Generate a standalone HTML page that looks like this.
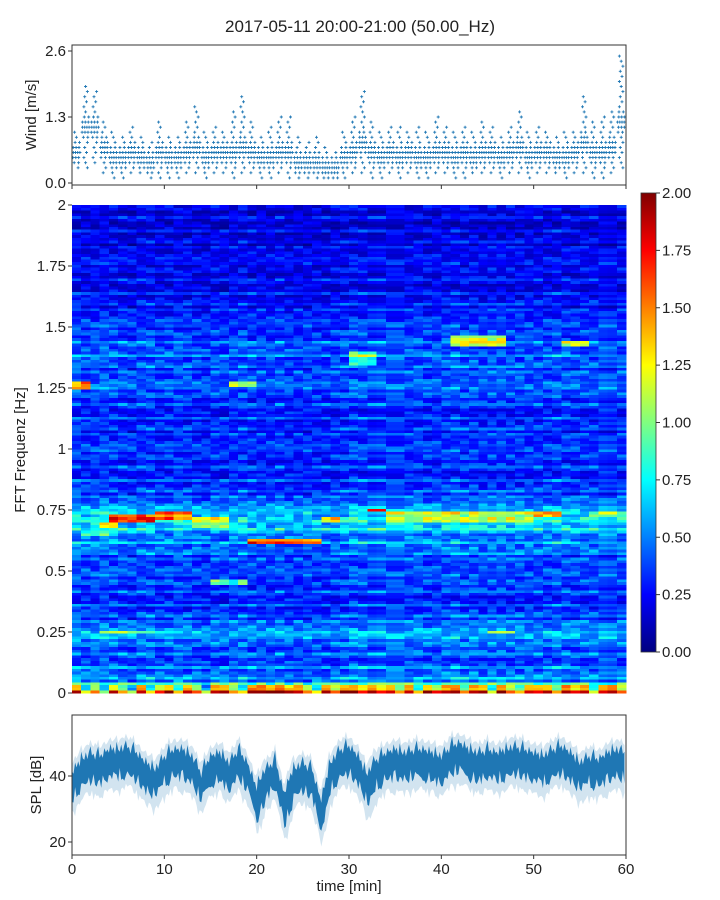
<!DOCTYPE html>
<html><head><meta charset="utf-8">
<style>
html,body{margin:0;padding:0;background:#fff;}
#wrap{position:relative;width:720px;height:900px;overflow:hidden;font-family:"Liberation Sans",sans-serif;}
svg text{font-family:"Liberation Sans",sans-serif;fill:#222;}
</style></head>
<body>
<div id="wrap">
<svg id="fig" width="720" height="900" xmlns="http://www.w3.org/2000/svg">
<text x="360" y="32" text-anchor="middle" font-size="17">2017-05-11 20:00-21:00 (50.00_Hz)</text>
<g id="wind"></g>
<g id="spec"></g>
<g id="cbar"></g>
<g id="spl"></g>
</svg>
</div>
<script>
// ---------- DATA ----------
const minutes = [0,1,2,3,4,5,6,7,8,9,10,11,12,13,14,15,16,17,18,19,20,21,22,23,24,25,26,27,28,29,30,31,32,33,34,35,36,37,38,39,40,41,42,43,44,45,46,47,48,49,50,51,52,53,54,55,56,57,58,59];
const windMax = [1.0,1.9,1.8,1.2,1.0,0.9,1.1,0.9,0.8,1.2,0.9,0.9,1.2,1.5,1.0,1.1,1.0,1.4,1.7,1.2,0.9,1.1,1.3,1.3,0.9,0.8,0.9,0.7,0.6,1.0,1.3,1.8,1.2,1.0,1.1,1.1,1.0,1.1,1.0,1.3,1.1,1.0,1.1,1.0,1.2,1.1,0.9,1.1,1.4,1.0,1.1,1.0,0.9,1.0,1.0,1.7,1.2,1.3,1.4,2.5];
const windMin = [0.3,0.3,0.4,0.2,0.1,0.1,0.2,0.2,0.1,0.1,0.1,0.1,0.2,0.2,0.1,0.2,0.2,0.1,0.2,0.2,0.1,0.1,0.2,0.1,0.1,0.1,0.1,0.1,0.1,0.1,0.2,0.2,0.1,0.1,0.2,0.1,0.2,0.1,0.1,0.2,0.2,0.1,0.1,0.2,0.2,0.2,0.1,0.2,0.2,0.1,0.2,0.2,0.2,0.1,0.2,0.2,0.1,0.1,0.2,0.3];
const windMean = [0.6,1.1,1.1,0.7,0.5,0.5,0.6,0.5,0.4,0.6,0.5,0.5,0.6,0.7,0.5,0.6,0.6,0.6,0.7,0.6,0.5,0.5,0.6,0.6,0.4,0.4,0.4,0.3,0.3,0.5,0.6,0.8,0.6,0.5,0.6,0.5,0.6,0.5,0.5,0.6,0.6,0.5,0.6,0.5,0.6,0.6,0.5,0.6,0.7,0.5,0.6,0.6,0.5,0.5,0.6,0.8,0.6,0.6,0.7,1.2];
const windTicks = [0.0,1.3,2.6];

const splMean = [37,41,43,42,44,44,45,43,40,38,42,44,44,42,37,42,43,40,44,40,32,38,41,30,38,40,38,28,40,44,45,42,36,41,43,44,43,44,44,43,42,45,46,44,43,44,43,44,45,44,43,42,44,45,43,40,42,41,43,44,43];
const splSpread = [5,5,5,5,5,5,5,5,5,5,5,5,5,5,5,5,5,5,5,5,6,5,5,6,5,5,5,6,5,5,5,5,6,5,5,5,5,5,5,5,5,5,5,5,5,5,5,5,5,5,5,5,5,5,5,5,5,5,5,5,5];
const splTicks = [20,40];
const xTicks = [0,10,20,30,40,50,60];

const freqProfile = [1.6,0.5,0.42,0.37,0.42,0.52,0.37,0.32,0.32,0.35,0.32,0.35,0.47,0.52,0.7,0.52,0.37,0.32,0.3,0.3,0.3,0.29,0.3,0.3,0.32,0.38,0.35,0.37,0.44,0.37,0.3,0.27,0.25,0.22,0.22,0.2,0.2,0.18,0.18,0.18,0.18];
const lowRow = [1.9,1.2,1.6,1.0,1.8,1.4,1.0,1.9,1.2,1.7,1.9,1.3,1.8,1.6,1.0,1.9,1.9,1.5,1.2,1.9,2.0,1.9,2.0,1.8,1.9,1.5,1.2,1.9,1.6,1.9,2.0,1.8,1.9,1.7,1.9,1.5,1.9,1.2,1.9,1.6,1.9,2.0,1.4,1.9,1.8,1.2,1.9,1.6,1.3,1.9,1.8,1.9,1.5,1.9,1.7,1.9,1.2,1.8,1.9,1.6];
const colGain = [1.1,1.0,1.05,1.1,1.05,1.0,0.95,1.0,1.05,0.95,1.0,1.05,1.0,0.95,0.9,1.0,0.95,1.0,1.05,1.0,0.95,0.95,1.0,0.95,0.9,0.95,0.95,0.9,0.95,1.0,1.1,1.05,1.0,1.05,1.05,1.05,1.0,1.05,1.0,1.0,1.05,1.1,1.05,1.05,1.0,1.05,1.05,1.0,1.05,1.0,1.0,1.0,1.05,1.05,1.0,1.0,1.0,1.05,1.0,1.0];
const texture = [0.05,-0.12,0.22,-0.05,0.1,-0.18,0.3,0.0,-0.1,0.15,-0.15,0.08,0.25,-0.08,0.02,-0.2,0.12,0.35,-0.06,0.04,-0.14,0.18,-0.02];
const hotspots = [
 [4,9,0.70,0.73,1.6],[9,13,0.71,0.74,1.5],[3,5,0.68,0.70,1.4],[13,17,0.68,0.72,1.1],
 [19,27,0.61,0.63,1.45],[27,29,0.70,0.72,1.2],[32,34,0.74,0.76,1.6],[34,50,0.70,0.75,1.05],
 [50,53,0.72,0.74,1.4],[41,47,1.42,1.47,1.1],[0,2,1.25,1.28,1.35],[17,20,1.26,1.28,1.0],
 [45,48,0.24,0.26,1.0],[3,9,0.24,0.26,0.9],[53,56,1.42,1.45,1.0],[15,19,0.45,0.47,0.8],
 [1,5,0.65,0.67,0.9],[30,33,1.35,1.40,0.85],[56,60,0.72,0.74,0.9]
];
const freqTicks = [0,0.25,0.5,0.75,1,1.25,1.5,1.75,2];
const freqTickLabels = ["0","0.25","0.5","0.75","1","1.25","1.5","1.75","2"];
const cbarTicks = [0,0.25,0.5,0.75,1,1.25,1.5,1.75,2];
const cbarTickLabels = ["0.00","0.25","0.50","0.75","1.00","1.25","1.50","1.75","2.00"];

// ---------- HELPERS ----------
const NS = "http://www.w3.org/2000/svg";
function mk(tag, attrs, parent){const e=document.createElementNS(NS,tag);for(const k in attrs)e.setAttribute(k,attrs[k]);if(parent)parent.appendChild(e);return e;}
function jet(v){let x=Math.max(0,Math.min(1,v/2));const c=t=>Math.round(255*Math.max(0,Math.min(1,1.5-Math.abs(t))));return `rgb(${c(4*x-3)},${c(4*x-2)},${c(4*x-1)})`;}
const X0=72,X1=626;
const xs = t => X0 + (t/60)*(X1-X0);

// ---------- WIND ----------
const gW = document.getElementById('wind');
const wy = v => 183 - v*(183-51)/2.6;
{
 const pts = mk('g',{},gW);
 
 
 let d='';
 minutes.forEach((m,i)=>{
  const lo=Math.round(windMin[i]*10), hi=Math.round(windMax[i]*10), mu=windMean[i]*10;
  for(let L=lo;L<=hi;L++){
   const dist=Math.abs(L-mu);
   let n = L===hi?1: Math.max(1,Math.round(4-dist*1.2));
   for(let k=0;k<n;k++){
    const t = m + (k+0.3+((L*3)%5)*0.1)/n*0.95;
    const x=xs(Math.min(t,59.99)), y=wy(L/10);
    d+=`M${(x-1.5).toFixed(1)} ${y.toFixed(1)}h3M${x.toFixed(1)} ${(y-1.5).toFixed(1)}v3`;
   }
  }
 });
 mk('path',{d:d,stroke:'#1f77b4','stroke-width':0.9,fill:'none'},pts);
 const fr=mk('rect',{x:X0,y:45,width:X1-X0,height:140,fill:'none',stroke:'#333','stroke-width':1},gW);
 
 windTicks.forEach(v=>{
  mk('line',{x1:X0-4,x2:X0,y1:wy(v),y2:wy(v),stroke:'#333'},gW);
  const t=mk('text',{x:X0-6,y:wy(v)+5,'text-anchor':'end','font-size':15},gW);t.textContent=v.toFixed(1);
  
 });
 xTicks.forEach(v=>mk('line',{x1:xs(v),x2:xs(v),y1:185,y2:189,stroke:'#333'},gW));
 const yl=mk('text',{transform:'translate(36,115) rotate(-90)','text-anchor':'middle','font-size':15},gW);yl.textContent='Wind [m/s]';
 
}

// ---------- SPECTROGRAM ----------
const gS=document.getElementById('spec');
const SY0=693,SY1=205;
const fy = f => SY0 - (f/2)*(SY0-SY1);
{
 const nRows=180, df=2/nRows;
 const cells=mk('g',{'shape-rendering':'crispEdges'},gS);
 
 for(let c=0;c<minutes.length;c++){
  const x0=xs(minutes[c]), x1=xs(minutes[c]+1);
  for(let r=0;r<nRows;r++){
   const f=r*df+df/2;
   let v;
   const tex = texture[(r*7)%23]*0.7 + texture[(r*13 + c*c*7 + Math.floor(c/3)*5)%23]*0.9;
   if(f<0.03){ v = lowRow[c] - (r>0?0.5:0) + tex*0.5; }
   else {
    const p=f/0.05, i0=Math.floor(p), fr=p-i0;
    const base=freqProfile[Math.min(i0,40)]*(1-fr)+freqProfile[Math.min(i0+1,40)]*fr;
    v = base*colGain[c] + tex*(0.4+base*0.6);
    hotspots.forEach(h=>{ if(minutes[c]>=h[0]&&minutes[c]<h[1]&&f>=h[2]&&f<h[3]) v=Math.max(v,h[4]+tex*0.8); });
   }
   const y0=fy(f+df/2), y1=fy(f-df/2);
   mk('rect',{x:x0.toFixed(2),y:y0.toFixed(2),width:(x1-x0+0.3).toFixed(2),height:(y1-y0+0.3).toFixed(2),fill:jet(v)},cells);
  }
 }
 freqTicks.forEach((v,i)=>{
  mk('line',{x1:X0-4,x2:X0,y1:fy(v),y2:fy(v),stroke:'#333'},gS);
  const t=mk('text',{x:X0-6,y:fy(v)+5,'text-anchor':'end','font-size':15},gS);t.textContent=freqTickLabels[i];
  
 });
 const yl=mk('text',{transform:'translate(25,450) rotate(-90)','text-anchor':'middle','font-size':15},gS);yl.textContent='FFT Frequenz [Hz]';
 
}

// ---------- COLORBAR ----------
const gC=document.getElementById('cbar');
{
 const CY0=652,CY1=193;
 const cy=v=>CY0-(v/2)*(CY0-CY1);
 const defs=mk('defs',{},gC);
 const lg=mk('linearGradient',{id:'jetg',x1:0,y1:1,x2:0,y2:0},defs);
 for(let i=0;i<=16;i++) mk('stop',{offset:(i/16),'stop-color':jet(i/8)},lg);
 const r=mk('rect',{x:641,y:CY1,width:15,height:CY0-CY1,fill:'url(#jetg)',stroke:'#333','stroke-width':0.8},gC);
 
 cbarTicks.forEach((v,i)=>{
  mk('line',{x1:656,x2:660,y1:cy(v),y2:cy(v),stroke:'#333'},gC);
  const t=mk('text',{x:662,y:cy(v)+5,'font-size':15},gC);t.textContent=cbarTickLabels[i];
  
 });
}

// ---------- SPL ----------
const gP=document.getElementById('spl');
const py=v=>776-(v-40)*(842-776)/20*(-1)*(-1)*-1*-1;
{
 const pyy=v=>776-(v-40)*3.3;
 const up=[],dn=[],up2=[],dn2=[];
 const sub=6;
 for(let i=0;i<splMean.length-1;i++){
  for(let k=0;k<sub;k++){
   const fr=k/sub, m=splMean[i]*(1-fr)+splMean[i+1]*fr, s=splSpread[i];
   const w=texture[(i*sub+k)%23], w2=texture[(i*sub+k*7+3)%23];
   const t=minutes[i]+fr;
   up.push([xs(t),pyy(m+s*0.8+w*8)]); dn.push([xs(t),pyy(m-s*0.9+w2*8)]);
   up2.push([xs(t),pyy(m+s*1.2+Math.abs(w)*8)]); dn2.push([xs(t),pyy(m-s*1.4-Math.abs(w2)*10)]);
  }
 }
 const poly=(a,b)=>a.map(p=>p[0].toFixed(1)+','+p[1].toFixed(1)).join(' ')+' '+b.slice().reverse().map(p=>p[0].toFixed(1)+','+p[1].toFixed(1)).join(' ');
 const lightP=mk('polygon',{points:poly(up2,dn2),fill:'#1f77b4','fill-opacity':0.2},gP);
 
 const coreP=mk('polygon',{points:poly(up,dn),fill:'#1f77b4'},gP);
 
 const fr=mk('rect',{x:X0,y:715,width:X1-X0,height:140,fill:'none',stroke:'#333','stroke-width':1},gP);
 
 splTicks.forEach(v=>{
  mk('line',{x1:X0-4,x2:X0,y1:pyy(v),y2:pyy(v),stroke:'#333'},gP);
  const t=mk('text',{x:X0-6,y:pyy(v)+5,'text-anchor':'end','font-size':15},gP);t.textContent=v;
  
 });
 xTicks.forEach(v=>{
  mk('line',{x1:xs(v),x2:xs(v),y1:855,y2:859,stroke:'#333'},gP);
  const t=mk('text',{x:xs(v),y:874,'text-anchor':'middle','font-size':15},gP);t.textContent=v;
  
 });
 const yl=mk('text',{transform:'translate(41,785) rotate(-90)','text-anchor':'middle','font-size':15},gP);yl.textContent='SPL [dB]';
 
 const xl=mk('text',{x:349,y:891,'text-anchor':'middle','font-size':15},gP);xl.textContent='time [min]';
 
}
</script>
</body></html>
